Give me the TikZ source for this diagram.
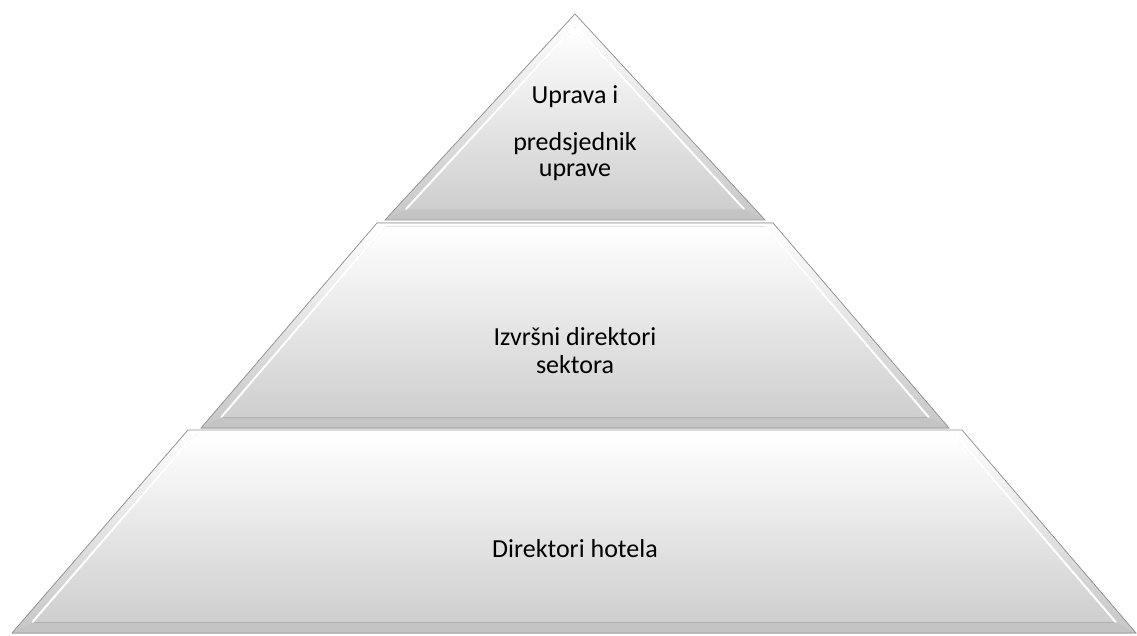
\documentclass[tikz,border=0pt]{standalone}
\usepackage{fontspec}
\setmainfont{Carlito}
\usetikzlibrary{calc}
\tikzset{tierface/.style={top color=white,middle color=black!2,bottom color=black!19},
	tierrim/.style={draw=black!42,line width=.7pt,line join=miter},
	tierlabel/.style={font=\fontsize{26}{28}\selectfont,align=center,anchor=base,inner sep=0pt,text=black}}

\begin{document}
\begin{tikzpicture}[x=1pt,y=-1pt]
\useasboundingbox (0,0) rectangle (1137,636);
\foreach \ya/\xa/\xb/\yb/\xc/\xd in {14/575/575/220/385/765,223/377/773/428/201/949,430/188/962/633/12/1136} {
	\pgfmathsetmacro{\sl}{(\xc-\xa)/(\yb-\ya)}
	\pgfmathsetmacro{\sr}{(\xd-\xb)/(\yb-\ya)}
	\pgfmathsetmacro{\yi}{max(\ya+4,\ya+(24-(\xb-\xa))/(\sr-\sl))}
	\pgfmathsetmacro{\yj}{\yb-11}
	\pgfmathsetmacro{\xia}{\xa+\sl*(\yi-\ya)+12}
	\pgfmathsetmacro{\xib}{\xb+\sr*(\yi-\ya)-12}
	\pgfmathsetmacro{\xic}{\xa+\sl*(\yj-\ya)+12}
	\pgfmathsetmacro{\xid}{\xb+\sr*(\yj-\ya)-12}
	% bevel
	\fill[top color=white,bottom color=black!22] (\xa,\ya) -- (\xb,\ya) -- (\xd,\yb) -- (\xc,\yb) -- cycle;
	\fill[black!23] (\xc,\yb) -- (\xd,\yb) -- (\xid,\yj) -- (\xic,\yj) -- cycle;
	% face
	\fill[tierface] (\xia,\yi) -- (\xib,\yi) -- (\xid,\yj) -- (\xic,\yj) -- cycle;
	\draw[white,line width=2pt,line cap=round] (\xia-1,\yi) -- (\xic-1,\yj);
	\draw[white,line width=2pt,line cap=round] (\xib+1,\yi) -- (\xid+1,\yj);
	\draw[tierrim] (\xa,\ya) -- (\xb,\ya) -- (\xd,\yb) -- (\xc,\yb) -- cycle;
};
\node[tierlabel,font=\fontsize{26}{26}\selectfont] (uprava) at (575,177) {Uprava i\\[21pt]predsjednik\\uprave};
\node[tierlabel] (izvrsni) at (575,373) {Izvršni direktori\\sektora};
\node[tierlabel] (hoteli) at (575,557) {Direktori hotela};
\end{tikzpicture}
\end{document}
